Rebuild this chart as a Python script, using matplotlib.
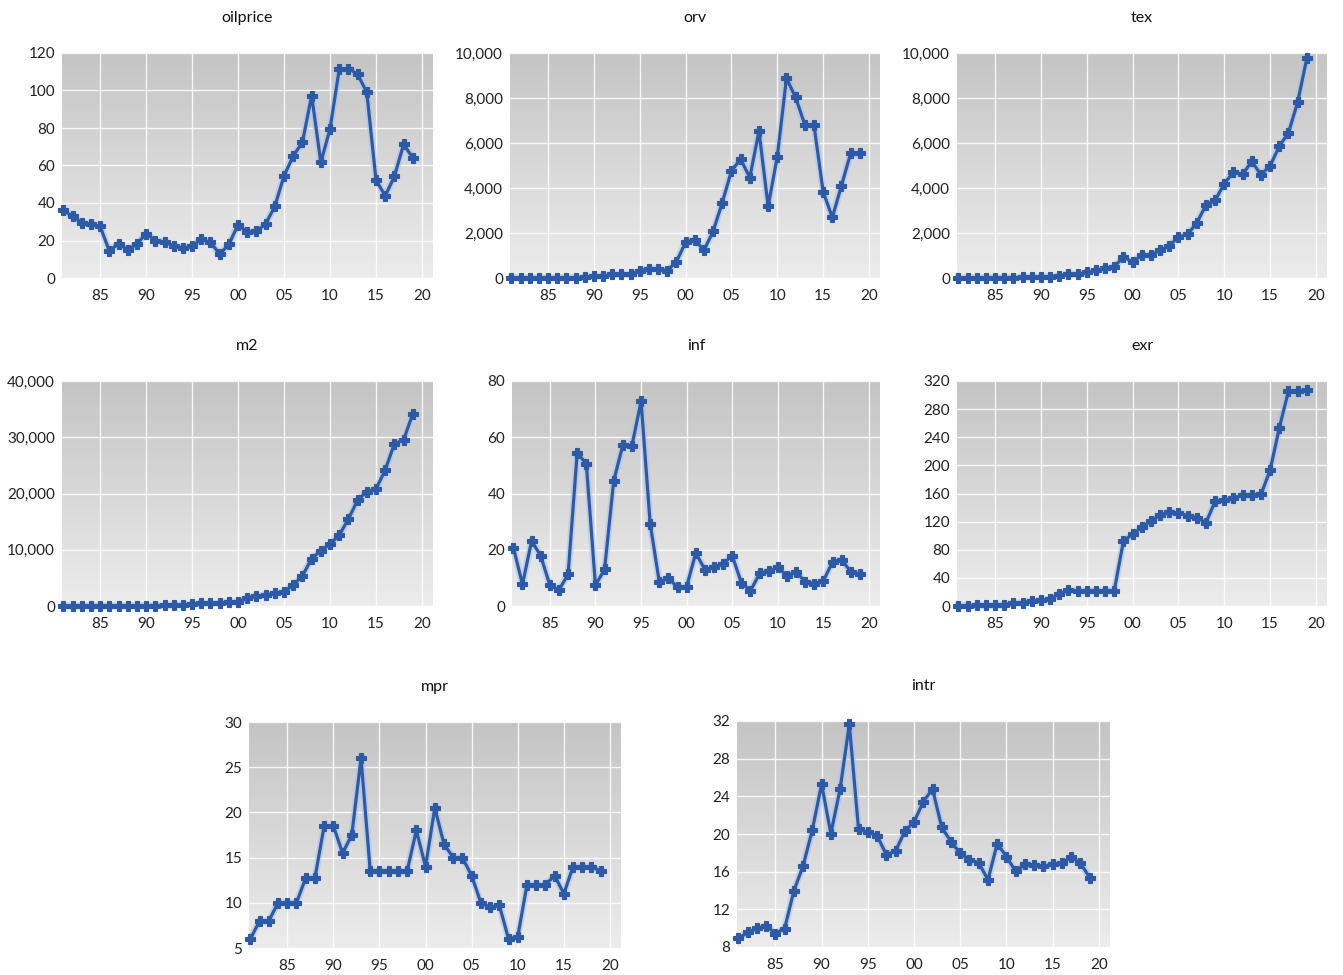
import numpy as np
import matplotlib
matplotlib.use("Agg")
import matplotlib.pyplot as plt
from matplotlib.colors import LinearSegmentedColormap
from matplotlib.ticker import FuncFormatter

plt.rcParams['font.family'] = ['Lato', 'DejaVu Sans']

years = list(range(1981, 2020))
xtick_years = [1985, 1990, 1995, 2000, 2005, 2010, 2015, 2020]
xtick_labels = ["85", "90", "95", "00", "05", "10", "15", "20"]

oilprice = [36.0, 33.0, 29.5, 28.8, 27.5, 14.4, 18.4, 14.9, 18.2, 23.7,
            20.0, 19.3, 17.0, 15.8, 17.0, 20.6, 19.1, 12.7, 17.9, 28.5,
            24.4, 25.0, 28.8, 38.3, 54.5, 65.1, 72.4, 97.3, 61.7, 79.5,
            111.3, 111.7, 108.7, 99.0, 52.4, 43.7, 54.2, 71.3, 64.2]

orv = [8.6, 7.8, 7.3, 8.3, 10.9, 8.1, 19.0, 19.8, 39.1, 71.9,
       82.7, 164.1, 162.1, 160.2, 324.5, 408.8, 416.8, 324.3, 724.4, 1591.7,
       1707.6, 1230.9, 2074.3, 3354.8, 4762.4, 5287.6, 4462.9, 6530.6, 3191.9, 5396.1,
       8879.0, 8026.0, 6809.2, 6793.8, 3830.1, 2693.9, 4109.8, 5545.8, 5536.3]

tex = [11.4, 11.9, 9.6, 9.9, 13.0, 16.2, 22.0, 27.7, 41.0, 60.3,
       66.6, 92.8, 191.2, 160.9, 248.8, 337.2, 428.2, 487.1, 947.7, 701.1,
       1018.0, 1018.2, 1226.0, 1426.2, 1822.1, 1938.0, 2450.9, 3240.8, 3453.0, 4194.6,
       4712.1, 4605.4, 5185.3, 4587.4, 4988.9, 5858.6, 6456.7, 7813.7, 9766.3]

m2 = [14.5, 15.8, 17.7, 20.1, 22.3, 23.8, 27.6, 38.4, 45.9, 52.9,
      75.4, 111.1, 165.3, 230.3, 289.1, 470.0, 480.0, 500.0, 770.0, 780.0,
      1490.0, 1780.0, 1960.0, 2260.0, 2550.0, 3740.0, 5350.0, 8440.0, 9800.0, 11000.0,
      12600.0, 15450.0, 18840.0, 20320.0, 20800.0, 24180.0, 28820.0, 29530.0, 34170.0]

inf = [20.8, 7.7, 23.2, 17.8, 7.4, 5.7, 11.3, 54.5, 50.5, 7.4,
       13.0, 44.5, 57.2, 57.0, 72.8, 29.3, 8.5, 10.0, 6.6, 6.9,
       18.9, 12.9, 14.0, 15.0, 17.9, 8.2, 5.4, 11.6, 12.5, 13.7,
       10.8, 12.2, 8.5, 8.0, 9.0, 15.7, 16.5, 12.1, 11.4]

exr = [0.61, 0.67, 0.72, 0.77, 0.89, 2.02, 4.02, 4.54, 7.39, 8.04,
       9.91, 17.3, 22.05, 21.89, 21.89, 21.89, 21.89, 21.89, 92.69, 102.1,
       111.9, 121.0, 129.4, 133.5, 132.1, 128.7, 125.8, 118.5, 148.9, 150.3,
       153.9, 157.5, 157.3, 158.6, 193.3, 253.5, 305.8, 306.1, 306.9]

mpr = [6.0, 8.0, 8.0, 10.0, 10.0, 10.0, 12.75, 12.75, 18.5, 18.5,
       15.5, 17.5, 26.0, 13.5, 13.5, 13.5, 13.5, 13.5, 18.0, 14.0,
       20.5, 16.5, 15.0, 15.0, 13.0, 10.0, 9.5, 9.75, 6.0, 6.25,
       12.0, 12.0, 12.0, 13.0, 11.0, 14.0, 14.0, 14.0, 13.5]

intr = [8.92, 9.54, 9.98, 10.24, 9.43, 9.96, 13.96, 16.62, 20.44, 25.3,
        20.04, 24.76, 31.65, 20.48, 20.23, 19.84, 17.8, 18.18, 20.29, 21.27,
        23.44, 24.77, 20.71, 19.18, 17.95, 17.26, 16.94, 15.14, 18.99, 17.59,
        16.02, 16.79, 16.72, 16.55, 16.85, 16.87, 17.58, 16.9, 15.38]

W, H = 1343, 975
fig = plt.figure(figsize=(W / 100, H / 100), dpi=100)
fig.patch.set_facecolor("white")

bg_cmap = LinearSegmentedColormap.from_list("panel_bg", ["#ececec", "#c4c4c4"])
line_color = "#2d5aa6"


def px_axes(left, top, right, bottom):
    return fig.add_axes([left / W, 1 - bottom / H, (right - left) / W, (bottom - top) / H])


def comma(v, _pos):
    return f"{int(round(v)):,}"


panels = [
    ("oilprice", oilprice, (0, 120), np.arange(0, 121, 20), False, (62, 53, 433, 278)),
    ("orv", orv, (0, 10000), np.arange(0, 10001, 2000), True, (510, 53, 880, 278)),
    ("tex", tex, (0, 10000), np.arange(0, 10001, 2000), True, (957, 53, 1327, 278)),
    ("m2", m2, (0, 40000), np.arange(0, 40001, 10000), True, (62, 381, 433, 606)),
    ("inf", inf, (0, 80), np.arange(0, 81, 20), False, (512, 381, 880, 606)),
    ("exr", exr, (0, 320), np.arange(0, 321, 40), False, (957, 381, 1327, 606)),
    ("mpr", mpr, (5, 30), np.arange(5, 31, 5), False, (249, 722, 621, 948)),
    ("intr", intr, (8, 32), np.arange(8, 33, 4), False, (737, 721, 1110, 947)),
]

grad = np.linspace(0, 1, 256).reshape(-1, 1)

for title, values, ylim, yticks, use_comma, box in panels:
    ax = px_axes(*box)
    ax.imshow(grad, extent=[0, 1, 0, 1], transform=ax.transAxes, aspect="auto",
              cmap=bg_cmap, origin="lower", zorder=0, interpolation="bicubic")
    ax.set_xlim(1980.85, 2021.2)
    ax.set_ylim(*ylim)
    ax.set_xticks(xtick_years)
    ax.set_xticklabels(xtick_labels)
    ax.set_yticks(yticks)
    if use_comma:
        ax.yaxis.set_major_formatter(FuncFormatter(comma))
    ax.grid(True, color="white", linewidth=1.0, alpha=0.85, zorder=1)
    ax.set_axisbelow(True)
    for s in ax.spines.values():
        s.set_visible(False)
    ax.tick_params(axis="both", length=0, labelsize=11, colors="#222222")
    ax.tick_params(axis="x", pad=8)
    ax.tick_params(axis="y", pad=5)
    # soft halo under the series line
    ax.plot(years, values, color="#a9c1e6", linewidth=5, alpha=0.55,
            zorder=2, clip_on=False, solid_joinstyle="round")
    ax.plot(years, values, color=line_color, linewidth=2.3, marker="P",
            markersize=7, markeredgewidth=0.8, markeredgecolor=line_color,
            zorder=3, clip_on=False)
    ax.text(0.5, 1 + 35 / (box[3] - box[1]), title, transform=ax.transAxes,
            ha="center", va="center", fontsize=11.5, color="#111111")

fig.savefig("out.png", dpi=100, facecolor="white")
